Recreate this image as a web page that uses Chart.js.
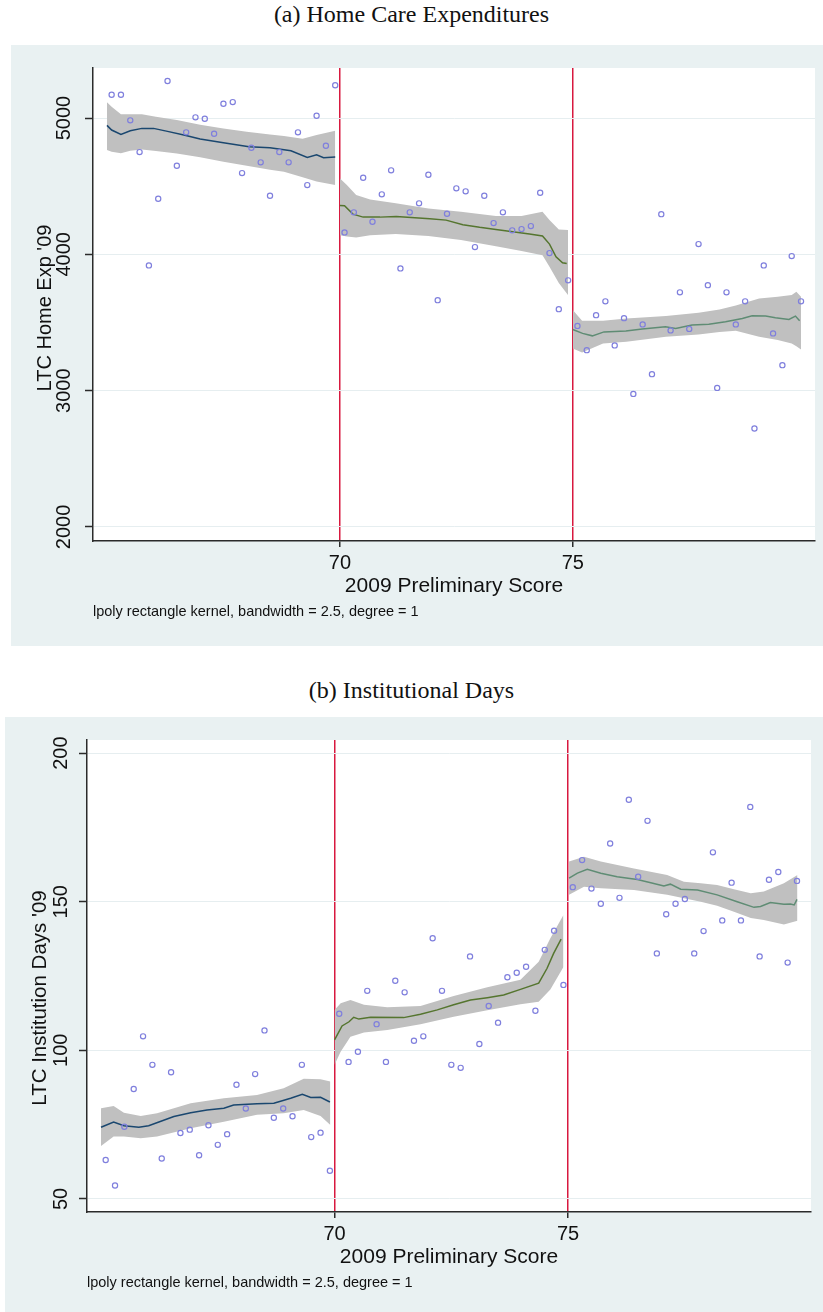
<!DOCTYPE html>
<html>
<head>
<meta charset="utf-8">
<script src="https://cdn.jsdelivr.net/npm/chart.js@4.4.0/dist/chart.umd.min.js"></script>
<style>
  body { margin: 0; background: #fff; width: 823px; height: 1312px; position: relative; overflow: hidden; }
  .cap { position: absolute; left: 0; width: 823px; text-align: center; line-height: 28px;
         font-family: "Liberation Serif", "DejaVu Serif", serif; font-size: 24px; color: #111; }
  .panel { position: absolute; background: #e9f1f2; }
</style>
</head>
<body>
<div class="cap" style="top:0px">(a) Home Care Expenditures</div>
<div class="panel" style="left:11px;top:45px;width:812px;height:601px">
  <canvas id="homeChart" width="812" height="601"></canvas>
</div>
<div class="cap" style="top:676px">(b) Institutional Days</div>
<div class="panel" style="left:5px;top:717px;width:818px;height:595px">
  <canvas id="instChart" width="818" height="595"></canvas>
</div>
<script>
// bin midpoints of the 2009 preliminary score
const scores = [
  65.1, 65.3, 65.5, 65.7, 65.9, 66.1, 66.3, 66.5, 66.7, 66.9,
  67.1, 67.3, 67.5, 67.7, 67.9, 68.1, 68.3, 68.5, 68.7, 68.9,
  69.1, 69.3, 69.5, 69.7, 69.9,
  70.1, 70.3, 70.5, 70.7, 70.9, 71.1, 71.3, 71.5, 71.7, 71.9,
  72.1, 72.3, 72.5, 72.7, 72.9, 73.1, 73.3, 73.5, 73.7, 73.9,
  74.1, 74.3, 74.5, 74.7, 74.9,
  75.1, 75.3, 75.5, 75.7, 75.9, 76.1, 76.3, 76.5, 76.7, 76.9,
  77.1, 77.3, 77.5, 77.7, 77.9, 78.1, 78.3, 78.5, 78.7, 78.9,
  79.1, 79.3, 79.5, 79.7, 79.9
]
const cutoffs = [70, 75]

// bin means
const homeExp = [
  5171, 5171, 4983, 4750, 3919, 4408, 5272, 4650, 4895, 5005,
  4995, 4885, 5105, 5117, 4596, 4782, 4675, 4430, 4750, 4675,
  4895, 4508, 5017, 4797, 5240,
  4161, 4308, 4562, 4239, 4440, 4616, 3897, 4308, 4374, 4584,
  3664, 4298, 4484, 4462, 4053, 4430, 4229, 4308, 4176, 4185,
  4207, 4452, 4009, 3598, 3809,
  3475, 3297, 3554, 3655, 3332, 3532, 2976, 3486, 3121, 4295,
  3442, 3721, 3453, 4075, 3774, 3020, 3721, 3486, 3655, 2722,
  3919, 3420, 3187, 3987, 3655
]
const instDays = [
  63.1, 54.5, 74.3, 87.0, 104.7, 95.1, 63.6, 92.6, 72.2, 73.3,
  64.7, 74.8, 68.2, 71.8, 88.4, 80.4, 92.0, 106.7, 77.3, 80.4,
  77.8, 95.1, 70.8, 72.3, 59.5,
  112.3, 96.1, 99.5, 120.0, 108.8, 96.1, 123.4, 119.5, 103.2, 104.7,
  137.7, 120.0, 95.1, 94.1, 131.6, 102.1, 114.9, 109.3, 124.6, 126.1,
  128.1, 113.3, 133.8, 140.2, 122.0,
  154.9, 164.0, 154.4, 149.3, 169.6, 151.3, 184.3, 158.4, 177.2, 132.6,
  145.8, 149.3, 150.9, 132.6, 140.1, 166.6, 143.7, 156.4, 143.7, 181.9,
  131.6, 157.4, 160.0, 129.5, 157.0
]

// lpoly fits, one list per side of each cutoff
const homeFitX = [
  [65.0, 65.1, 65.3, 65.5, 65.75, 66.0, 66.3, 66.65, 67.0, 67.5, 68.05, 68.5, 68.95, 69.3, 69.5, 69.65, 69.9],
  [70.0, 70.1, 70.28, 70.5, 70.86, 71.21, 71.93, 72.28, 72.64, 73.0, 73.35, 73.71, 74.07, 74.35, 74.5, 74.64, 74.78, 74.87],
  [75.0, 75.21, 75.42, 75.67, 76.14, 76.49, 76.99, 77.21, 77.56, 77.92, 78.28, 78.64, 78.85, 79.14, 79.35, 79.64, 79.78, 79.87]
]
const homeFitY = [
  [4946, 4912, 4880, 4907, 4924, 4924, 4902, 4875, 4846, 4819, 4790, 4782, 4760, 4711, 4731, 4709, 4714],
  [4359, 4356, 4295, 4273, 4273, 4278, 4261, 4251, 4217, 4198, 4183, 4166, 4149, 4134, 4075, 3982, 3938, 3933],
  [3449, 3420, 3402, 3431, 3438, 3453, 3468, 3456, 3481, 3488, 3505, 3530, 3549, 3547, 3534, 3522, 3547, 3512]
]
const homeBandX = [
  [65.0, 65.1, 65.3, 65.5, 65.75, 66.05, 66.5, 67.0, 67.5, 68.0, 68.5, 68.8, 69.2, 69.5, 69.9],
  [70.0, 70.15, 70.35, 70.65, 71.2, 71.9, 72.6, 73.35, 73.9, 74.35, 74.5, 74.7, 74.9],
  [75.0, 75.2, 75.65, 76.15, 77.0, 77.7, 78.15, 78.5, 79.0, 79.4, 79.7, 79.8, 79.9]
]
const homeBandHi = [
  [5115, 5083, 5027, 5027, 5027, 5010, 4985, 4950, 4924, 4900, 4880, 4868, 4848, 4875, 4907],
  [4557, 4508, 4435, 4403, 4374, 4337, 4312, 4281, 4281, 4312, 4251, 4183, 4178],
  [3591, 3512, 3512, 3530, 3547, 3572, 3595, 3625, 3676, 3688, 3701, 3726, 3688]
]
const homeBandLo = [
  [4765, 4752, 4741, 4760, 4770, 4758, 4740, 4712, 4679, 4650, 4620, 4606, 4565, 4535, 4508],
  [4141, 4130, 4124, 4140, 4150, 4135, 4105, 4060, 4025, 3994, 3909, 3790, 3701],
  [3309, 3280, 3346, 3358, 3395, 3412, 3431, 3440, 3395, 3372, 3345, 3325, 3302]
]

const instFitX = [
  [65.0, 65.27, 65.49, 65.81, 66.02, 66.56, 66.92, 67.27, 67.63, 67.84, 68.34, 68.7, 69.06, 69.31, 69.49, 69.7, 69.9],
  [70.0, 70.16, 70.31, 70.41, 70.52, 70.77, 71.48, 71.84, 72.2, 72.55, 72.91, 73.27, 73.62, 73.98, 74.37, 74.55, 74.69, 74.85],
  [75.02, 75.2, 75.41, 75.7, 76.05, 76.48, 76.77, 77.05, 77.19, 77.41, 77.77, 78.19, 78.62, 78.98, 79.12, 79.33, 79.62, 79.76, 79.84, 79.9]
]
const instFitY = [
  [74.1, 75.9, 74.6, 74.1, 74.6, 77.7, 79.0, 79.9, 80.5, 81.6, 82.0, 82.2, 83.9, 85.2, 84.1, 84.2, 82.6],
  [103.5, 108.2, 109.6, 111.1, 110.5, 111.1, 111.0, 112.1, 113.6, 115.3, 116.9, 117.7, 118.6, 120.5, 122.6, 127.6, 132.6, 137.4],
  [157.9, 159.6, 160.9, 159.6, 158.4, 157.5, 156.4, 155.3, 155.9, 154.2, 153.9, 152.3, 150.0, 148.1, 148.4, 149.7, 149.1, 149.2, 148.9, 150.8]
]
const instBandX = [
  [65.0, 65.27, 65.49, 65.85, 66.2, 66.92, 67.63, 68.34, 68.91, 69.34, 69.7, 69.91],
  [70.0, 70.13, 70.34, 70.63, 71.13, 71.84, 72.55, 73.27, 73.98, 74.37, 74.62, 74.9],
  [75.02, 75.34, 75.7, 76.41, 77.12, 77.48, 77.84, 78.19, 78.55, 78.91, 79.19, 79.62, 79.91]
]
const instBandHi = [
  [80.5, 81.3, 79.0, 77.9, 78.8, 82.2, 83.9, 85.0, 87.2, 90.4, 90.3, 89.5],
  [113.6, 115.8, 116.9, 115.3, 114.5, 114.9, 118.3, 121.2, 123.7, 129.8, 137.7, 145.5],
  [163.5, 165.1, 163.5, 161.2, 159.0, 156.7, 156.2, 155.6, 154.2, 152.8, 153.4, 156.2, 159.0]
]
const instBandLo = [
  [67.8, 71.0, 71.0, 70.4, 71.0, 73.8, 76.0, 78.3, 78.8, 79.9, 77.9, 74.9],
  [95.1, 99.5, 104.6, 106.0, 106.8, 108.8, 111.3, 113.5, 115.5, 116.3, 120.5, 128.0],
  [152.3, 155.0, 154.5, 153.9, 152.3, 151.2, 150.0, 148.6, 146.6, 144.5, 143.8, 142.3, 143.6]
]

const homeTicks = [2000, 3000, 4000, 5000]
const instTicks = [50, 100, 150, 200]

const sans = '"Liberation Sans", Arial, sans-serif'
const axisColor = '#2b2b2b'
const textColor = '#111'
const fitColors = ['#1a476f', '#55752f', '#5f8c74']
const noteText = 'lpoly rectangle kernel, bandwidth = 2.5, degree = 1'

// white plot region, rotated y title and the kernel note under the axis
const panelText = {
  id: 'panelText',
  beforeDraw(chart) {
    const {ctx, chartArea: a} = chart
    ctx.save()
    ctx.fillStyle = '#ffffff'
    ctx.fillRect(a.left, a.top, a.right - a.left, a.bottom - a.top)
    ctx.restore()
  },
  afterDraw(chart) {
    const ctx = chart.ctx
    const t = chart.options.panelText
    ctx.save()
    ctx.fillStyle = textColor
    ctx.textBaseline = 'middle'
    ctx.font = '14.5px ' + sans
    ctx.fillText(noteText, chart.chartArea.left, t.noteY)
    ctx.translate(t.titleX, t.titleY)
    ctx.rotate(-Math.PI / 2)
    ctx.textAlign = 'center'
    ctx.font = t.titleSize + 'px ' + sans
    ctx.fillText(t.title, 0, 0)
    ctx.restore()
  }
}

function toXY(xs, ys) {
  return xs.map((x, i) => ({x: x, y: ys[i]}))
}

function buildChart(id, p) {
  let datasets = []

  // grey confidence bands: upper edge filled down to the lower edge
  p.bandX.forEach((xs, s) => {
    datasets.push({
      data: toXY(xs, p.bandHi[s]), fill: '+1', backgroundColor: '#c0c0c0',
      borderColor: 'transparent', borderWidth: 0, pointRadius: 0, order: 3
    })
    datasets.push({
      data: toXY(xs, p.bandLo[s]), fill: false,
      borderColor: 'transparent', borderWidth: 0, pointRadius: 0, order: 3
    })
  })

  p.fitX.forEach((xs, s) => {
    datasets.push({
      data: toXY(xs, p.fitY[s]), fill: false, borderColor: fitColors[s],
      borderWidth: 1.5, pointRadius: 0, tension: 0, order: 1
    })
  })

  datasets.push({
    data: toXY(scores, p.means), showLine: false, pointRadius: 2.6,
    pointBorderWidth: 1.2, pointBorderColor: '#7f7fdd', pointBackgroundColor: 'transparent', order: 0
  })

  return new Chart(document.getElementById(id), {
    type: 'line',
    data: {datasets},
    plugins: [panelText],
    options: {
      responsive: false,
      animation: false,
      panelText: p.text,
      layout: {padding: p.padding},
      plugins: {legend: {display: false}, tooltip: {enabled: false}},
      scales: {
        x: {
          type: 'linear', min: 64.7, max: 80.2,
          afterBuildTicks: s => { s.ticks = cutoffs.map(v => ({value: v})) },
          afterFit: s => { s.height = 58 },
          grid: {color: '#d8193f', lineWidth: 1.5, tickColor: axisColor, tickWidth: 1.5, tickLength: 6},
          border: {color: axisColor, width: 1.5},
          ticks: {font: {family: sans, size: 20}, color: textColor, padding: 4, minRotation: 0, maxRotation: 0,
                  callback: v => String(v)},
          title: {display: true, text: '2009 Preliminary Score', font: {family: sans, size: 21},
                  color: textColor, padding: {top: 0, bottom: 0}}
        },
        y: {
          min: p.yMin, max: p.yMax,
          afterBuildTicks: s => { s.ticks = p.yTicks.map(v => ({value: v})) },
          afterFit: s => { s.width = 82 },
          grid: {color: '#e6eef0', lineWidth: 1, tickColor: axisColor, tickWidth: 1.5, tickLength: 8},
          border: {color: axisColor, width: 1.5},
          ticks: {font: {family: sans, size: 20}, color: textColor, minRotation: 90, maxRotation: 90,
                  crossAlign: 'center', padding: p.tickPad, callback: v => String(v)},
          title: {display: false}
        }
      }
    }
  })
}

buildChart('homeChart', {
  means: homeExp, fitX: homeFitX, fitY: homeFitY,
  bandX: homeBandX, bandHi: homeBandHi, bandLo: homeBandLo,
  yMin: 1897, yMax: 5367, yTicks: homeTicks, tickPad: -2,
  text: {title: "LTC Home Exp '09", titleX: 34, titleY: 263, titleSize: 20, noteY: 567},
  padding: {top: 23, right: 8, bottom: 47, left: 0}
})

buildChart('instChart', {
  means: instDays, fitX: instFitX, fitY: instFitY,
  bandX: instBandX, bandHi: instBandHi, bandLo: instBandLo,
  yMin: 45.6, yMax: 204.4, yTicks: instTicks, tickPad: 1,
  text: {title: "LTC Institution Days '09", titleX: 35, titleY: 281, titleSize: 20.5, noteY: 566},
  padding: {top: 23, right: 12, bottom: 42, left: 0}
})
</script>
</body>
</html>
